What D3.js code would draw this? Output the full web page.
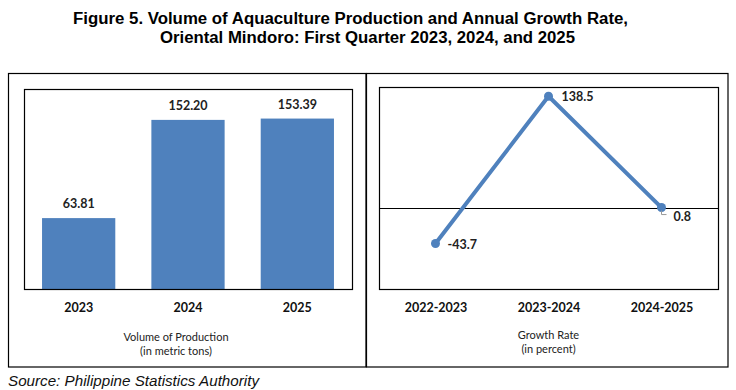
<!DOCTYPE html>
<html><head><meta charset="utf-8">
<script src="https://cdn.jsdelivr.net/npm/d3@7"></script>
<style>body{margin:0;background:#fff}svg{display:block}</style>
</head><body>
<svg id="c" width="736" height="390"></svg>
<script>
const titleLines = ["Figure 5. Volume of Aquaculture Production and Annual Growth Rate,", "Oriental Mindoro: First Quarter 2023, 2024, and 2025"];
const years = ["2023", "2024", "2025"];
const volume = [63.81, 152.20, 153.39];
const volumeLabels = ["63.81", "152.20", "153.39"];
const periods = ["2022-2023", "2023-2024", "2024-2025"];
const growth = [-43.7, 138.5, 0.8];
const growthLabels = ["-43.7", "138.5", "0.8"];
const leftCaption = ["Volume of Production", "(in metric tons)"];
const rightCaption = ["Growth Rate", "(in percent)"];
const source = "Source: Philippine Statistics Authority";

const svg = d3.select("#c");
const blue = "#4F81BD";
const lab = "Lato, 'Open Sans', sans-serif";

// Title
const titlePos = [{x: 73, y: 24, w: 555}, {x: 160, y: 42.5, w: 415}];
svg.append("g").selectAll("text").data(titleLines).join("text")
  .attr("x", (d, i) => titlePos[i].x).attr("y", (d, i) => titlePos[i].y)
  .attr("textLength", (d, i) => titlePos[i].w).attr("lengthAdjust", "spacingAndGlyphs")
  .attr("font-family", "'Liberation Sans', Arial, sans-serif").attr("font-weight", "bold").attr("font-size", 16)
  .attr("fill", "#000").text(d => d);

// Outer boxes
svg.append("rect").attr("x", 8.5).attr("y", 73.5).attr("width", 357.5).attr("height", 293.5)
  .attr("fill", "none").attr("stroke", "#000").attr("stroke-width", 1.2);
svg.append("rect").attr("x", 366.5).attr("y", 73.5).attr("width", 361.5).attr("height", 293.5)
  .attr("fill", "none").attr("stroke", "#000").attr("stroke-width", 1.2);

// Left chart
const L = {x0: 24, x1: 352, y0: 89, y1: 289};
const xb = d3.scaleBand().domain(years).range([L.x0, L.x1]).paddingInner(0.33).paddingOuter(0.165);
const yb = d3.scaleLinear().domain([0, 180]).range([L.y1, L.y0]);
const gl = svg.append("g");
gl.selectAll("rect.bar").data(years).join("rect").attr("class", "bar")
  .attr("x", d => xb(d)).attr("width", xb.bandwidth())
  .attr("y", (d, i) => yb(volume[i])).attr("height", (d, i) => yb(0) - yb(volume[i]))
  .attr("fill", blue);
gl.selectAll("text.vl").data(years).join("text").attr("class", "vl")
  .attr("x", d => xb(d) + xb.bandwidth() / 2).attr("y", (d, i) => yb(volume[i]) - 10)
  .attr("text-anchor", "middle").attr("font-family", lab).attr("font-weight", "bold").attr("font-size", 12.5)
  .attr("fill", "#222").text((d, i) => volumeLabels[i]);
gl.append("rect").attr("x", L.x0 + 0.5).attr("y", L.y0 + 0.5).attr("width", L.x1 - L.x0).attr("height", L.y1 - L.y0)
  .attr("fill", "none").attr("stroke", "#000").attr("stroke-width", 1.2);
const axL = gl.append("g").attr("transform", `translate(0,${L.y1})`)
  .call(d3.axisBottom(xb).tickSize(0).tickPadding(14));
axL.select(".domain").remove();
axL.selectAll("text").attr("font-family", lab).attr("font-weight", "bold").attr("font-size", 12.5).attr("fill", "#111");
gl.append("text").attr("text-anchor", "middle").attr("font-family", lab).attr("font-size", 11).attr("fill", "#222")
  .selectAll("tspan").data(leftCaption).join("tspan")
  .attr("x", 176).attr("y", (d, i) => 341 + i * 14).text(d => d);

// Right chart
const R = {x0: 379, x1: 718, y0: 87, y1: 289};
const xp = d3.scalePoint().domain(periods).range([R.x0, R.x1]).padding(0.5);
const yp = d3.scaleLinear().domain([-100, 150]).range([R.y1, R.y0]);
const gr = svg.append("g");
gr.append("rect").attr("x", R.x0 + 0.5).attr("y", R.y0 + 0.5).attr("width", R.x1 - R.x0).attr("height", R.y1 - R.y0)
  .attr("fill", "none").attr("stroke", "#000").attr("stroke-width", 1.2);
gr.append("line").attr("x1", R.x0).attr("x2", R.x1).attr("y1", Math.round(yp(0)) + 0.5).attr("y2", Math.round(yp(0)) + 0.5)
  .attr("stroke", "#000").attr("stroke-width", 1);
const pts = periods.map((p, i) => [xp(p), yp(growth[i])]);
gr.append("path").attr("d", d3.line()(pts)).attr("fill", "none").attr("stroke", blue).attr("stroke-width", 4)
  .attr("stroke-linejoin", "round");
gr.selectAll("circle").data(pts).join("circle").attr("cx", d => d[0]).attr("cy", d => d[1]).attr("r", 4.5).attr("fill", blue);
// leader line for 0.8
gr.append("path").attr("d", `M${pts[2][0]},${pts[2][1] + 3}V${pts[2][1] + 7}H${pts[2][0] + 5}`)
  .attr("fill", "none").attr("stroke", "#999").attr("stroke-width", 1);
const offs = [[12, 5], [13, 5], [12, 13]];
gr.selectAll("text.gl").data(pts).join("text").attr("class", "gl")
  .attr("x", (d, i) => d[0] + offs[i][0]).attr("y", (d, i) => d[1] + offs[i][1])
  .attr("font-family", lab).attr("font-weight", "bold").attr("font-size", 12.5).attr("fill", "#222")
  .text((d, i) => growthLabels[i]);
const axR = gr.append("g").attr("transform", `translate(0,${R.y1})`)
  .call(d3.axisBottom(xp).tickSize(0).tickPadding(14));
axR.select(".domain").remove();
axR.selectAll("text").attr("font-family", lab).attr("font-weight", "bold").attr("font-size", 12.5).attr("fill", "#111");
gr.append("text").attr("text-anchor", "middle").attr("font-family", lab).attr("font-size", 11).attr("fill", "#222")
  .selectAll("tspan").data(rightCaption).join("tspan")
  .attr("x", 548.5).attr("y", (d, i) => 339 + i * 14).text(d => d);

// Source
svg.append("text").attr("x", 8).attr("y", 386).attr("font-family", "'Liberation Sans', Arial, sans-serif")
  .attr("font-style", "italic").attr("font-size", 15.2).attr("fill", "#111").text(source);
</script>
</body></html>
